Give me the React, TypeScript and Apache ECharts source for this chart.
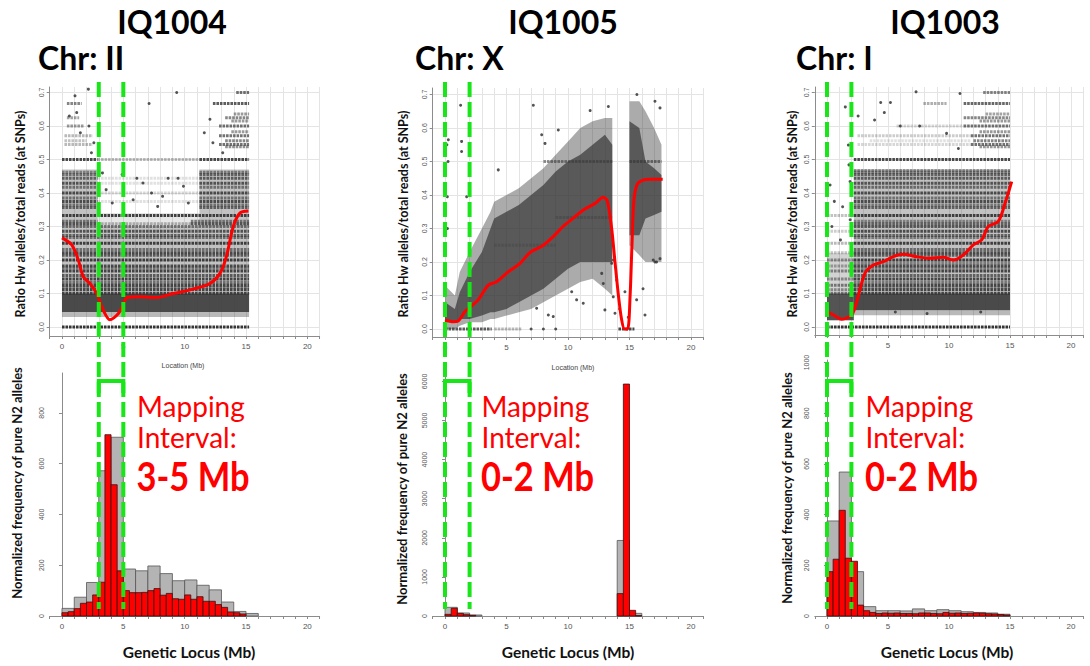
import { useEffect, useRef } from "react";
import * as echarts from "echarts";

// ---------------- DATA ----------------
const panelTitles = ["IQ1004", "IQ1005", "IQ1003"];
const chromosomeLabels = ["Chr: II", "Chr: X", "Chr: I"];
const intervalBounds = [[3, 5], [0, 2], [0, 2]];
const intervalLabels = ["3-5 Mb", "0-2 Mb", "0-2 Mb"];
const locusTickLabels = [0, 5, 10, 15, 20];
const ratioTicks = [0, 0.1, 0.2, 0.3, 0.4, 0.5, 0.6, 0.7];
const freqTicksIQ1004 = [0, 200, 400, 600, 800];
const freqTicksIQ1005 = [0, 1000, 2000, 3000, 4000, 5000, 6000];
const freqTicksIQ1003 = [0, 200, 400, 600, 800, 1000];

// histogram bins (gray = 1 Mb bins, red = 0.5 Mb bins, starting at 0 Mb)
const grayBinWidth = 1;
const redBinWidth = 0.5;
const grayIQ1004 = [30, 74, 132, 572, 704, 185, 178, 197, 167, 139, 142, 121, 103, 55, 18, 10];
const redIQ1004 = [13, 17, 29, 50, 55, 83, 133, 714, 517, 178, 100, 92, 92, 93, 100, 108, 82, 89, 68, 66, 83, 66, 76, 58, 58, 45, 34, 16, 13, 8];
const grayIQ1005 = [222, 77, 26, 0, 0, 0, 0, 0, 0, 0, 0, 0, 0, 0, 1932, 68];
const redIQ1005 = [43, 197, 68, 34, 17, 0, 0, 0, 0, 0, 0, 0, 0, 0, 0, 0, 0, 0, 0, 0, 0, 0, 0, 0, 0, 0, 0, 0, 573, 5932, 145, 8];
const grayIQ1003 = [375, 568, 175, 37, 21, 21, 20, 28, 21, 25, 21, 17, 14, 12, 7];
const redIQ1003 = [175, 224, 417, 228, 216, 43, 21, 14, 10, 12, 11, 12, 10, 10, 9, 12, 12, 10, 9, 14, 11, 12, 10, 11, 12, 11, 9, 8, 6, 4];

// loess curves [Mb, ratio]
const curveIQ1004 = [[0, 0.266], [0.8, 0.245], [1.33, 0.2], [1.74, 0.15], [2.28, 0.13], [2.83, 0.1], [3.37, 0.05], [3.9, 0.022], [4.6, 0.04], [5, 0.068], [5.3, 0.088], [6.36, 0.09], [7.72, 0.088], [9.07, 0.1], [10.7, 0.113], [12.06, 0.13], [12.88, 0.16], [13.4, 0.21], [13.96, 0.3], [14.5, 0.34], [15.2, 0.346]];
const curveIQ1005 = [[0, 0.027], [0.68, 0.022], [1.08, 0.024], [1.63, 0.052], [2.03, 0.065], [2.7, 0.087], [3.52, 0.131], [4.2, 0.141], [5.15, 0.171], [6.1, 0.196], [6.9, 0.228], [7.9, 0.248], [8.8, 0.276], [9.6, 0.306], [10.4, 0.33], [11.25, 0.355], [12.2, 0.375], [12.87, 0.393], [13.2, 0.382], [13.55, 0.3], [13.82, 0.2], [14.1, 0.1], [14.35, 0.03], [14.6, 0], [14.85, 0], [15.05, 0.1], [15.2, 0.25], [15.35, 0.38], [15.6, 0.43], [16, 0.443], [16.7, 0.447], [17.7, 0.447]];
const curveIQ1003 = [[0, 0.046], [0.52, 0.036], [1.2, 0.023], [2.02, 0.036], [2.43, 0.075], [3.11, 0.16], [3.8, 0.185], [4.62, 0.195], [5.44, 0.21], [6.26, 0.217], [7.35, 0.21], [8.44, 0.205], [9.53, 0.208], [10.35, 0.2], [11.17, 0.215], [11.99, 0.245], [12.68, 0.26], [13.22, 0.3], [14.04, 0.315], [14.6, 0.37], [15.14, 0.434]];

// SNP rows: [ratio, fromMb, toMb, density]
const rowsIQ1004 = [
  [0, 0, 15.25, 1],
  [0.1, 0, 15.25, 0.9], [0.111, 0, 15.25, 0.9], [0.118, 0, 15.25, 0.55], [0.125, 0, 15.25, 0.9], [0.133, 0, 15.25, 0.6],
  [0.143, 0, 15.25, 0.9], [0.154, 0, 15.25, 0.75], [0.167, 0, 15.25, 0.9], [0.176, 0, 15.25, 0.55], [0.182, 0, 15.25, 0.85],
  [0.2, 0, 15.25, 0.95], [0.214, 0, 15.25, 0.75], [0.222, 0, 15.25, 0.85], [0.231, 0, 15.25, 0.6], [0.25, 0, 15.25, 0.95],
  [0.267, 0, 15.25, 0.6], [0.273, 0, 15.25, 0.7], [0.286, 0, 15.25, 0.8], [0.3, 0, 15.25, 0.6], [0.333, 0, 15.25, 0.95],
  [0.308, 0, 2.9, 0.8], [0.316, 0, 2.9, 0.6], [0.357, 0, 2.9, 0.7], [0.364, 0, 2.9, 0.6], [0.375, 0, 2.9, 0.85], [0.385, 0, 2.9, 0.6],
  [0.4, 0, 2.9, 0.85], [0.417, 0, 2.9, 0.6], [0.429, 0, 2.9, 0.8], [0.444, 0, 2.9, 0.7], [0.455, 0, 2.9, 0.6], [0.462, 0, 2.9, 0.5], [0.5, 0, 2.9, 0.9],
  [0.308, 10.5, 15.25, 0.8], [0.316, 10.5, 15.25, 0.6], [0.357, 11.2, 15.25, 0.7], [0.364, 11.2, 15.25, 0.6], [0.375, 11.2, 15.25, 0.85], [0.385, 11.2, 15.25, 0.6],
  [0.4, 11.2, 15.25, 0.85], [0.417, 11.2, 15.25, 0.6], [0.429, 11.2, 15.25, 0.8], [0.444, 11.2, 15.25, 0.75], [0.455, 11.2, 15.25, 0.7], [0.462, 11.2, 15.25, 0.55], [0.5, 11.2, 15.25, 0.9],
  [0.308, 2.9, 10.5, 0.35], [0.375, 2.9, 11.2, 0.15], [0.4, 2.9, 11.2, 0.2], [0.429, 2.9, 11.2, 0.15], [0.444, 2.9, 11.2, 0.15], [0.5, 2.9, 11.2, 0.35],
  [0.538, 13.3, 15.25, 0.55], [0.545, 12.8, 15.25, 0.7], [0.556, 13.3, 15.25, 0.6], [0.571, 12.8, 15.25, 0.7], [0.583, 13.8, 15.25, 0.5],
  [0.6, 12.8, 15.25, 0.7], [0.615, 13.8, 15.25, 0.5], [0.625, 13.3, 15.25, 0.6], [0.636, 14, 15.25, 0.5], [0.667, 12.3, 15.25, 0.8], [0.7, 14.2, 15.25, 0.7],
  [0.545, 0.2, 2.5, 0.35], [0.556, 0.2, 2.0, 0.3], [0.571, 0.2, 2.5, 0.35], [0.6, 0.4, 1.8, 0.5], [0.625, 0.4, 1.4, 0.45], [0.667, 0.4, 1.6, 0.6],
];
const rowsIQ1005 = [
  [0, 0, 3.8, 0.8], [0, 4.0, 6.2, 0.35], [0, 14.1, 15.4, 0.9],
  [0.5, 8, 13.6, 0.55], [0.5, 15, 17.6, 0.6], [0.333, 9, 13.6, 0.3], [0.25, 4, 9, 0.25],
];
const rowsIQ1003 = [
  [0, 0, 15, 1],
  [0.1, 0, 2.2, 0.6], [0.111, 0, 2.2, 0.5], [0.125, 0, 2.2, 0.6], [0.143, 0, 2.2, 0.5], [0.167, 0, 2.2, 0.55], [0.182, 0, 2.2, 0.4],
  [0.2, 0, 2.2, 0.5], [0.222, 0, 2.2, 0.3], [0.25, 0, 2.2, 0.35], [0.286, 0, 2.2, 0.25], [0.333, 0, 2.2, 0.3],
  [0.1, 2.2, 15, 0.9], [0.111, 2.2, 15, 0.9], [0.118, 2.2, 15, 0.5], [0.125, 2.2, 15, 0.9], [0.133, 2.2, 15, 0.55], [0.143, 2.2, 15, 0.9],
  [0.154, 2.2, 15, 0.7], [0.167, 2.2, 15, 0.9], [0.176, 2.2, 15, 0.5], [0.182, 2.2, 15, 0.85], [0.19, 2.2, 15, 0.5], [0.2, 2.2, 15, 0.95],
  [0.214, 2.2, 15, 0.75], [0.222, 2.2, 15, 0.85], [0.231, 2.2, 15, 0.65], [0.25, 2.2, 15, 0.95], [0.267, 2.2, 15, 0.55], [0.273, 2.2, 15, 0.7],
  [0.286, 2.2, 15, 0.85], [0.3, 2.2, 15, 0.75], [0.308, 2.2, 15, 0.7], [0.316, 2.2, 15, 0.5], [0.333, 2.2, 15, 0.95], [0.357, 2.2, 15, 0.7],
  [0.364, 2.2, 15, 0.55], [0.375, 2.2, 15, 0.85], [0.385, 2.2, 15, 0.6], [0.4, 2.2, 15, 0.85], [0.417, 2.2, 15, 0.65], [0.429, 2.2, 15, 0.8],
  [0.444, 2.2, 15, 0.75], [0.455, 2.2, 15, 0.7], [0.462, 2.2, 15, 0.55], [0.467, 2.2, 15, 0.45], [0.5, 2.2, 15, 0.9],
  [0.538, 12.5, 15, 0.5], [0.545, 11.8, 15, 0.7], [0.556, 12, 15, 0.6], [0.571, 11.8, 15, 0.7], [0.583, 12.5, 15, 0.5], [0.6, 11.2, 15, 0.7],
  [0.615, 12.5, 15, 0.5], [0.625, 11.2, 15, 0.6], [0.636, 13, 15, 0.45], [0.667, 11.2, 15, 0.75], [0.7, 12.8, 15, 0.6],
  [0.545, 2.5, 11.8, 0.2], [0.556, 3.5, 11.8, 0.15], [0.571, 2.5, 11.8, 0.25], [0.6, 5.7, 11.2, 0.2], [0.667, 7.9, 9.8, 0.4],
];

// dense clouds: [fromMb, toMb, lowRatio, highRatio, density]
const cloudsIQ1004 = [
  [0, 15.25, 0.045, 0.1, 0.9], [0, 15.25, 0.03, 0.045, 0.35], [0, 15.25, 0.1, 0.3, 0.3],
  [0, 2.9, 0.3, 0.47, 0.3], [11.2, 15.25, 0.3, 0.47, 0.3], [2.9, 11.2, 0.3, 0.34, 0.12],
];
const cloudsIQ1003 = [
  [0, 2.2, 0.02, 0.1, 0.85], [2.2, 15, 0.05, 0.1, 0.9], [2.2, 15, 0.035, 0.05, 0.35],
  [2.2, 15, 0.1, 0.47, 0.3], [0, 2.2, 0.1, 0.22, 0.22],
];
// IQ1005 scatter envelope: [Mb, outerLow, outerHigh, coreLow, coreHigh]
const envelopeIQ1005A = [
  [0, 0.0, 0.13, 0.02, 0.08], [0.8, 0.0, 0.1, 0.02, 0.06], [1.2, 0.01, 0.17, 0.03, 0.11], [2, 0.02, 0.23, 0.03, 0.17],
  [3, 0.02, 0.3, 0.04, 0.23], [3.7, 0.03, 0.35, 0.05, 0.3], [4, 0.03, 0.38, 0.05, 0.33], [5, 0.04, 0.4, 0.06, 0.35],
  [6, 0.05, 0.42, 0.08, 0.37], [7, 0.06, 0.45, 0.1, 0.4], [8, 0.08, 0.48, 0.12, 0.43], [9, 0.1, 0.52, 0.15, 0.47],
  [10, 0.12, 0.56, 0.18, 0.5], [11, 0.14, 0.6, 0.2, 0.52], [12, 0.15, 0.62, 0.2, 0.55], [13, 0.12, 0.63, 0.2, 0.58], [13.6, 0.1, 0.63, 0.2, 0.55],
];
const envelopeIQ1005B = [
  [15.0, 0.25, 0.68, 0.28, 0.62], [15.8, 0.22, 0.68, 0.28, 0.6], [16.3, 0.2, 0.65, 0.33, 0.5], [17, 0.2, 0.6, 0.34, 0.48], [17.6, 0.2, 0.55, 0.35, 0.46],
];

// isolated SNP points [Mb, ratio]
const pointsIQ1004 = [
  [9.35, 0.7], [7.1, 0.667], [1.06, 0.69], [2.15, 0.71], [12.06, 0.62], [6.1, 0.444], [8.65, 0.444], [9.46, 0.444], [7.3, 0.4],
  [3.6, 0.41], [4.1, 0.37], [5.8, 0.38], [6.6, 0.43], [7.8, 0.36], [8.2, 0.39], [9.9, 0.42], [10.3, 0.37], [1.5, 0.58], [2.2, 0.6],
  [0.6, 0.63], [1.2, 0.64], [2.6, 0.55], [2.4, 0.52], [11.6, 0.58], [12.3, 0.55], [13.1, 0.52], [4.9, 0.455], [3.3, 0.46],
];
const pointsIQ1005 = [
  [1.27, 0.668], [1.35, 0.56], [1.35, 0.53], [7.18, 0.668], [7.86, 0.58], [8.13, 0.554], [9.21, 0.594], [11.8, 0.652], [13.28, 0.664],
  [15.6, 0.7], [17.07, 0.68], [17.48, 0.66], [0.27, 0.565], [0.19, 0.395], [1.76, 0.395], [4.33, 0.475], [13.7, 0.206], [13.96, 0.146],
  [14.63, 0.111], [16.1, 0.12], [17.07, 0.2], [17.48, 0.21], [12.74, 0.166], [12.87, 0.136], [13.0, 0.057], [13.68, 0.096], [13.82, 0.047],
  [13.55, 0.196], [16.26, 0.042], [15.58, 0.087], [16.93, 0.206], [17.2, 0.2], [11.24, 0.077], [10.7, 0.087], [10.3, 0.111], [8.8, 0.037],
  [8.4, 0.042], [7.45, 0.062], [7.0, 0.0], [8.0, 0.0], [9.0, 0.0], [0.2, 0.3], [0.25, 0.5], [0.15, 0.55], [14.9, 0.035], [14.2, 0.06],
];
const pointsIQ1003 = [
  [0.25, 0.424], [1.5, 0.657], [1.75, 0.543], [1.28, 0.359], [1.89, 0.434], [1.8, 0.484], [2.55, 0.63], [3.9, 0.618], [4.4, 0.67],
  [4.7, 0.64], [5.2, 0.67], [6.0, 0.6], [7.3, 0.702], [7.6, 0.6], [9.8, 0.578], [10.77, 0.533], [10.9, 0.697], [0.6, 0.375],
  [1.1, 0.26], [0.4, 0.3], [1.9, 0.32], [5.6, 0.045], [8.2, 0.04], [12.6, 0.045],
];

// ---------------- LAYOUT ----------------
const DOT = "#363636";
const AXIS = "#8c8c8c";
const GRID = "#e4e4e4";
const LABEL = "#555555";
const GREEN = "#19e619";
const RED = "#ff0000";
const TXT = "Lato, 'Open Sans', sans-serif";
const SMALL = "'Liberation Sans', Arial, sans-serif";
const RATIO_PX = 335;

const layout = [
  { left: 49.7, ppm: 12.27, sTop: 87, sBottom: 336, zeroY: 327, hTop: 373, hMax: 957, label: 20, nameY: 214, histNameX: 17, histNameY: 483, locus: 189, loc: [183, 365], mapX: 137 },
  { left: 432.7, ppm: 12.3, sTop: 88, sBottom: 337, zeroY: 329, hTop: 375, hMax: 6164, label: 403.5, nameY: 214, histNameX: 402, histNameY: 489, locus: 568, loc: [573, 367], mapX: 481.5 },
  { left: 814.8, ppm: 12.2, sTop: 87, sBottom: 335, zeroY: 327, hTop: 360, hMax: 1010, label: 792.5, nameY: 214, histNameX: 787, histNameY: 488, locus: 947, loc: null, mapX: 865.5 },
];
const X_MIN = -1;
const X_MAX = 21;
const H_BOTTOM = 616;

const rowsAll = [rowsIQ1004, rowsIQ1005, rowsIQ1003];
const cloudsAll = [cloudsIQ1004, [], cloudsIQ1003];
const pointsAll = [pointsIQ1004, pointsIQ1005, pointsIQ1003];
const curvesAll = [curveIQ1004, curveIQ1005, curveIQ1003];
const grayAll = [grayIQ1004, grayIQ1005, grayIQ1003];
const redAll = [redIQ1004, redIQ1005, redIQ1003];
const freqTicksAll = [freqTicksIQ1004, freqTicksIQ1005, freqTicksIQ1003];

function bins(values: number[], w: number) {
  return values.map((v, i) => [i * w, (i + 1) * w, v]).filter((b) => b[2] > 0);
}

const rowRender = (_p: any, api: any) => {
  const a = api.coord([api.value(1), api.value(0)]);
  const b = api.coord([api.value(2), api.value(0)]);
  return {
    type: "line",
    shape: { x1: a[0], y1: a[1], x2: b[0], y2: b[1] },
    style: { stroke: DOT, lineWidth: 3, lineDash: [2.6, 0.9], opacity: api.value(3) },
  };
};
const cloudRender = (_p: any, api: any) => {
  const a = api.coord([api.value(0), api.value(3)]);
  const b = api.coord([api.value(1), api.value(2)]);
  return {
    type: "rect",
    shape: { x: a[0], y: a[1], width: b[0] - a[0], height: b[1] - a[1] },
    style: { fill: DOT, opacity: api.value(4) },
  };
};
const envelopeRender = (env: number[][], lo: number, hi: number, opacity: number) => (p: any, api: any) => {
  if (p.dataIndex !== 0) return null;
  const top = env.map((r) => api.coord([r[0], r[hi]]));
  const bot = env.slice().reverse().map((r) => api.coord([r[0], r[lo]]));
  return { type: "polygon", shape: { points: top.concat(bot) }, style: { fill: DOT, opacity } };
};
const binRender = (fill: string, stroke: string) => (_p: any, api: any) => {
  const a = api.coord([api.value(0), api.value(2)]);
  const b = api.coord([api.value(1), 0]);
  return {
    type: "rect",
    shape: { x: a[0], y: a[1], width: b[0] - a[0], height: b[1] - a[1] },
    style: { fill, stroke, lineWidth: 0.8 },
  };
};

function buildOption() {
  const grid: any[] = [];
  const xAxis: any[] = [];
  const yAxis: any[] = [];
  const series: any[] = [];
  const xLabelFmt = (v: number) => (locusTickLabels.includes(v) ? String(v) : "");
  layout.forEach((L, k) => {
    grid.push({ left: L.left, top: L.sTop, width: (X_MAX - X_MIN) * L.ppm, height: L.sBottom - L.sTop });
    xAxis.push({
      gridIndex: k, type: "value", min: X_MIN, max: X_MAX, interval: 1,
      axisLine: { show: true, onZero: false, lineStyle: { color: AXIS } },
      axisTick: { show: true, length: 3, lineStyle: { color: AXIS } },
      axisLabel: { formatter: xLabelFmt, fontSize: 8, color: LABEL, margin: 6, fontFamily: SMALL },
      splitLine: { show: true, lineStyle: { color: GRID } },
    });
    yAxis.push({
      gridIndex: k, type: "value",
      min: -(L.sBottom - L.zeroY) / RATIO_PX, max: (L.zeroY - L.sTop) / RATIO_PX,
      axisLine: { show: true, onZero: false, lineStyle: { color: AXIS } },
      axisTick: { show: true, length: 3, customValues: ratioTicks, lineStyle: { color: AXIS } },
      axisLabel: { customValues: ratioTicks, formatter: (v: number) => v.toFixed(1), rotate: 90, fontSize: 7, color: LABEL, margin: 5, fontFamily: SMALL },
      splitLine: { show: true, lineStyle: { color: GRID } },
    });
  });
  layout.forEach((L, k) => {
    grid.push({ left: L.left, top: L.hTop, width: (X_MAX - X_MIN) * L.ppm, height: H_BOTTOM - L.hTop });
    xAxis.push({
      gridIndex: 3 + k, type: "value", min: X_MIN, max: X_MAX, interval: 1,
      axisLine: { show: true, onZero: false, lineStyle: { color: AXIS } },
      axisTick: { show: true, length: 3, lineStyle: { color: AXIS } },
      axisLabel: { formatter: xLabelFmt, fontSize: 8, color: LABEL, margin: 6, fontFamily: SMALL },
      splitLine: { show: false },
    });
    yAxis.push({
      gridIndex: 3 + k, type: "value", min: 0, max: L.hMax,
      axisLine: { show: true, lineStyle: { color: AXIS } },
      axisTick: { show: true, length: 3, customValues: freqTicksAll[k], lineStyle: { color: AXIS } },
      axisLabel: { customValues: freqTicksAll[k], formatter: (v: number) => String(v), rotate: 90, fontSize: 7, color: LABEL, margin: 5, fontFamily: SMALL },
      splitLine: { show: false },
    });
  });

  for (let k = 0; k < 3; k++) {
    if (cloudsAll[k].length) {
      series.push({ type: "custom", xAxisIndex: k, yAxisIndex: k, clip: true, renderItem: cloudRender, data: cloudsAll[k], z: 2 });
    }
    if (k === 1) {
      [envelopeIQ1005A, envelopeIQ1005B].forEach((env) => {
        series.push({ type: "custom", xAxisIndex: k, yAxisIndex: k, clip: true, renderItem: envelopeRender(env, 1, 2, 0.42), data: env, z: 2 });
        series.push({ type: "custom", xAxisIndex: k, yAxisIndex: k, clip: true, renderItem: envelopeRender(env, 3, 4, 0.7), data: env, z: 2 });
      });
    }
    series.push({ type: "custom", xAxisIndex: k, yAxisIndex: k, clip: true, renderItem: rowRender, data: rowsAll[k], z: 3 });
    series.push({
      type: "scatter", xAxisIndex: k, yAxisIndex: k, data: pointsAll[k], symbolSize: 3,
      itemStyle: { color: DOT, opacity: 0.85 }, z: 4,
    });
    series.push({
      type: "line", xAxisIndex: k, yAxisIndex: k, data: curvesAll[k], smooth: 0.3, symbol: "none",
      lineStyle: { color: RED, width: 3 }, z: 6, clip: true,
    });
    series.push({ type: "custom", xAxisIndex: 3 + k, yAxisIndex: 3 + k, renderItem: binRender("#b4b4b4", "#555555"), data: bins(grayAll[k], grayBinWidth), z: 2 });
    series.push({ type: "custom", xAxisIndex: 3 + k, yAxisIndex: 3 + k, renderItem: binRender(RED, "#3a1010"), data: bins(redAll[k], redBinWidth), z: 3 });
  }

  return { animation: false, backgroundColor: "#ffffff", grid, xAxis, yAxis, series };
}

function buildGraphics(chart: any) {
  const g: any[] = [];
  const text = (t: string, x: number, y: number, font: string, fill: string, align = "left", extra: any = {}) => ({
    type: "text", x, y, z: 100, ...extra,
    style: { text: t, font, fill, align, verticalAlign: "middle", textAlign: align, textVerticalAlign: "middle" },
  });
  const titleX = [172, 563, 945];
  const chrX = [38, 415, 796];
  layout.forEach((L, k) => {
    g.push(text(panelTitles[k], titleX[k], 21.5, `bold 32px ${TXT}`, "#000", "center"));
    g.push(text(chromosomeLabels[k], chrX[k], 57.5, `bold 32px ${TXT}`, "#000", "left"));
    g.push(text("Ratio Hw alleles/total reads (at SNPs)", L.label, L.nameY, `bold 12.5px ${TXT}`, "#111", "center", { rotation: Math.PI / 2 }));
    g.push(text("Normalized frequency of pure N2 alleles", L.histNameX, L.histNameY, `bold 13px ${TXT}`, "#111", "center", { rotation: Math.PI / 2 }));
    g.push(text("Genetic Locus (Mb)", L.locus, 652, `bold 15.5px ${TXT}`, "#111", "center"));
    if (L.loc) g.push(text("Location (Mb)", L.loc[0], L.loc[1], `7px ${SMALL}`, "#444", "center"));
    g.push(text("Mapping", L.mapX, 405.5, `28px ${TXT}`, RED, "left"));
    g.push(text("Interval:", L.mapX, 437, `28px ${TXT}`, RED, "left"));
    g.push(text(intervalLabels[k], L.mapX - 0.5, 475, `bold 41px ${TXT}`, RED, "left", { scaleX: 0.84 }));

    const xs = intervalBounds[k].map((v) => chart.convertToPixel({ xAxisIndex: k }, v) as number);
    xs.forEach((x) => {
      g.push({ type: "line", z: 90, shape: { x1: x, y1: 82, x2: x, y2: 609 }, style: { stroke: GREEN, lineWidth: 4, lineDash: [15, 5] } });
    });
    g.push({
      type: "polyline", z: 91,
      shape: { points: [[xs[0], 393], [xs[0], 381], [xs[1], 381], [xs[1], 393]] },
      style: { stroke: GREEN, lineWidth: 4, fill: null },
    });
  });
  return g;
}

export default function App() {
  const ref = useRef<HTMLDivElement>(null);
  useEffect(() => {
    if (!ref.current) return;
    const chart = echarts.init(ref.current, undefined, { renderer: "svg" });
    chart.setOption(buildOption());
    chart.setOption({ graphic: buildGraphics(chart) });
    return () => chart.dispose();
  }, []);
  return (
    <div
      ref={ref}
      style={{ position: "fixed", left: 0, top: 0, width: 1090, height: 666, background: "#fff" }}
    />
  );
}
